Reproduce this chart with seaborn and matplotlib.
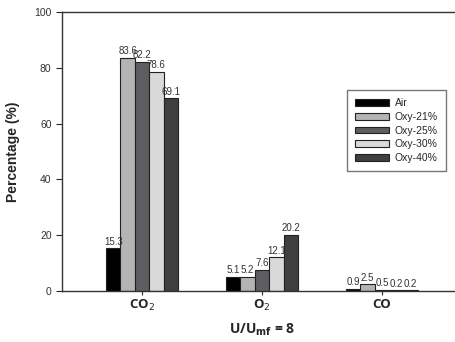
import pandas as pd
import seaborn as sns
import matplotlib.pyplot as plt

## data
gases = ['CO$_2$', 'O$_2$', 'CO']
conditions = ['Air', 'Oxy-21%', 'Oxy-25%', 'Oxy-30%', 'Oxy-40%']
air = [15.3, 5.1, 0.9]
oxy21 = [83.6, 5.2, 2.5]
oxy25 = [82.2, 7.6, 0.5]
oxy30 = [78.6, 12.1, 0.2]
oxy40 = [69.1, 20.2, 0.2]
colors = ['#000000', '#b4b4b4', '#5e5e62', '#d9d9d9', '#404040']

rows = []
for cond, vals in zip(conditions, [air, oxy21, oxy25, oxy30, oxy40]):
    for g, v in zip(gases, vals):
        rows.append({'gas': g, 'cond': cond, 'value': v})
df = pd.DataFrame(rows)

sns.set_style('white')
plt.rcParams['font.family'] = ['Liberation Sans', 'DejaVu Sans']

fig = plt.figure(figsize=(4.56, 3.42), dpi=100)
ax = fig.add_axes([0.136, 0.149, 0.877, 0.816])

sns.barplot(data=df, x='gas', y='value', hue='cond', order=gases, hue_order=conditions,
            palette=colors, saturation=1, width=0.6, edgecolor='#222222', linewidth=0.8, ax=ax)

for cont in ax.containers:
    ax.bar_label(cont, fmt='%.1f', fontsize=7, color='#333333', padding=1)

ax.set_ylim(0, 100)
ax.set_xlim(-0.667, 2.667)
ax.set_yticks([0, 20, 40, 60, 80, 100])
ax.tick_params(axis='y', labelsize=7.5, labelcolor='#333333', length=4, direction='out', left=True, width=0.8)
ax.tick_params(axis='x', length=3, direction='out', bottom=True, width=0.8, pad=2)
for lab in ax.get_xticklabels():
    lab.set_fontfamily(['Open Sans', 'DejaVu Sans'])
    lab.set_fontweight('bold')
    lab.set_fontsize(9.5)

ax.set_ylabel('Percentage (%)', fontsize=10, fontweight='bold', labelpad=10)
ax.set_xlabel('U/U$_{\\mathbf{mf}}$ = 8', fontsize=10, fontweight='bold',
              fontfamily=['Open Sans', 'DejaVu Sans'], labelpad=6)

for side in ['left', 'bottom', 'top']:
    ax.spines[side].set_color('#333333')
    ax.spines[side].set_linewidth(1)
ax.spines['right'].set_visible(False)

leg = ax.legend(loc='upper left', bbox_to_anchor=(0.7125, 0.72), fontsize=7.5, title=None,
                frameon=True, fancybox=False, edgecolor='#555555', handlelength=3.2,
                handleheight=0.6, labelspacing=0.35, borderpad=0.8, handletextpad=0.6,
                borderaxespad=0)
leg.get_frame().set_linewidth(1)

plt.savefig('out.png', dpi=100)
plt.close()
